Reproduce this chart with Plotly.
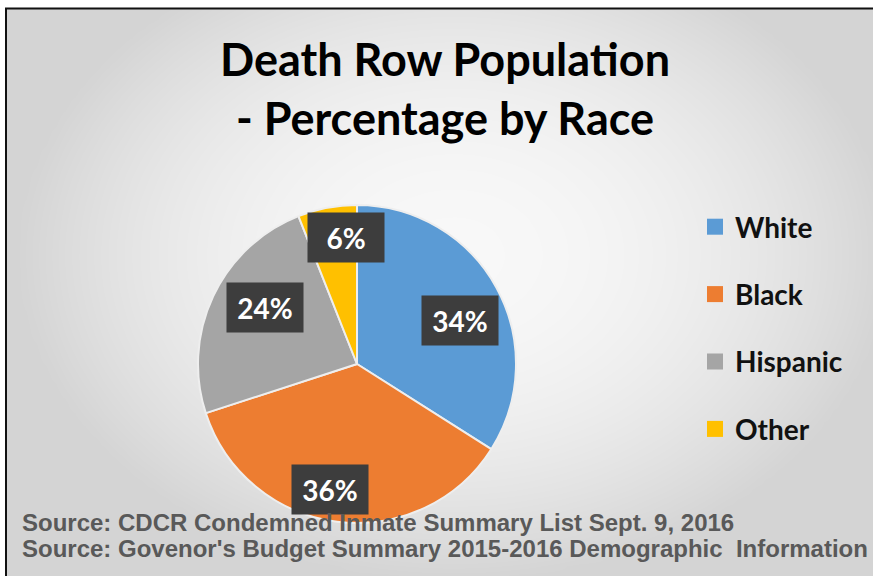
import math
import numpy as np
import plotly.graph_objects as go

# ---- data ----
categories = ["White", "Black", "Hispanic", "Other"]
percentages = [34, 36, 24, 6]
title_text = "Death Row Population<br>- Percentage by Race"
source_lines = [
    "Source: CDCR Condemned Inmate Summary List Sept. 9, 2016",
    "Source: Govenor's Budget Summary 2015-2016 Demographic  Information",
]

# ---- styles ----
colors = ["#5B9BD5", "#ED7D31", "#A5A5A5", "#FFC000"]
W, H = 873, 576
pie_cx, pie_cy, pie_r = 357, 364, 159          # px
label_radius = [0.70, 0.81, 0.68, 0.80]        # fraction of radius
label_shift = [6, 5, 6, 6]                     # degrees nudge clockwise
source_y = [522, 548]                          # px centers of source lines
TITLE_FONT = "Lato"

fig = go.Figure()

# background gradient (hidden cartesian axes)
gx = np.linspace(0, W, 90)
gy = np.linspace(0, H, 60)
X, Y = np.meshgrid(gx, gy)
d2 = ((X - 450) / 440) ** 2 + ((Y - 250) / 330) ** 2
Z = np.clip(1 - 1.0 * d2, 0, 1)
fig.add_trace(go.Heatmap(
    x=gx, y=H - gy, z=Z, zmin=0, zmax=1, zsmooth="best",
    colorscale=[[0, "rgb(212,212,212)"], [1, "rgb(248,248,248)"]],
    showscale=False, hoverinfo="skip",
))

# pie
fig.add_trace(go.Pie(
    labels=categories, values=percentages, sort=False, direction="clockwise",
    rotation=0, textinfo="none", showlegend=False,
    marker=dict(colors=colors, line=dict(color="#eeeeee", width=2)),
    domain=dict(x=[(pie_cx - pie_r) / W, (pie_cx + pie_r) / W],
                y=[1 - (pie_cy + pie_r) / H, 1 - (pie_cy - pie_r) / H]),
    hoverinfo="label+percent",
))

# legend entries
for i, (name, c) in enumerate(zip(categories, colors)):
    fig.add_trace(go.Scatter(
        x=[None], y=[None], mode="markers", name=name, legendgroup=name,
        marker=dict(symbol="square", size=16, color=c),
    ))

# data labels computed from the values
annotations = []
total = sum(percentages)
cum = 0
for i, v in enumerate(percentages):
    mid = (cum + v / 2) / total * 360 + label_shift[i]
    cum += v
    a = math.radians(mid)
    px = pie_cx + label_radius[i] * pie_r * math.sin(a)
    py = pie_cy - label_radius[i] * pie_r * math.cos(a)
    annotations.append(dict(
        x=px / W, y=1 - py / H, xref="paper", yref="paper",
        xanchor="center", yanchor="middle",
        text=f"{v}%", showarrow=False, bgcolor="#3d3d3d",
        width=74, height=47,
        font=dict(family=TITLE_FONT, size=28, color="white", weight="bold"),
    ))

for line, yy in zip(source_lines, source_y):
    annotations.append(dict(
        x=20 / W, y=1 - yy / H, xref="paper", yref="paper", xanchor="left", yanchor="middle",
        text=line, showarrow=False, align="left",
        font=dict(family="Liberation Sans", size=24, color="#595959", weight="bold"),
    ))

shapes = [
    # legend box
    dict(type="rect", xref="paper", yref="paper",
         x0=672 / W, x1=868 / W, y0=1 - 463 / H, y1=1 - 193 / H,
         fillcolor="#ececec", line=dict(color="#e0e0e0", width=1), layer="below"),
    # frame lines
    dict(type="line", xref="paper", yref="paper", x0=5 / W, x1=1, y0=1 - 8.5 / H, y1=1 - 8.5 / H,
         line=dict(color="#111111", width=2)),
    dict(type="line", xref="paper", yref="paper", x0=6 / W, x1=6 / W, y0=0, y1=1 - 8 / H,
         line=dict(color="#111111", width=2)),
]

fig.update_layout(
    width=W, height=H, margin=dict(l=0, r=0, t=0, b=0),
    paper_bgcolor="white", plot_bgcolor="white",
    xaxis=dict(domain=[7 / W, 1], range=[0, W], visible=False, fixedrange=True),
    yaxis=dict(domain=[0, 1 - 9 / H], range=[0, H], visible=False, fixedrange=True),
    title=dict(text=title_text, x=445 / W, xanchor="center", y=1 - 76 / H, yanchor="middle",
               font=dict(family=TITLE_FONT, size=45, color="black", weight="bold")),
    showlegend=True,
    legend=dict(x=695 / W, y=1 - 202 / H, xanchor="left", yanchor="top",
                bgcolor="rgba(0,0,0,0)", tracegroupgap=28, itemsizing="trace",
                font=dict(family=TITLE_FONT, size=28, color="#111111", weight="bold")),
    annotations=annotations,
    shapes=shapes,
)

fig.write_html("out.html")
